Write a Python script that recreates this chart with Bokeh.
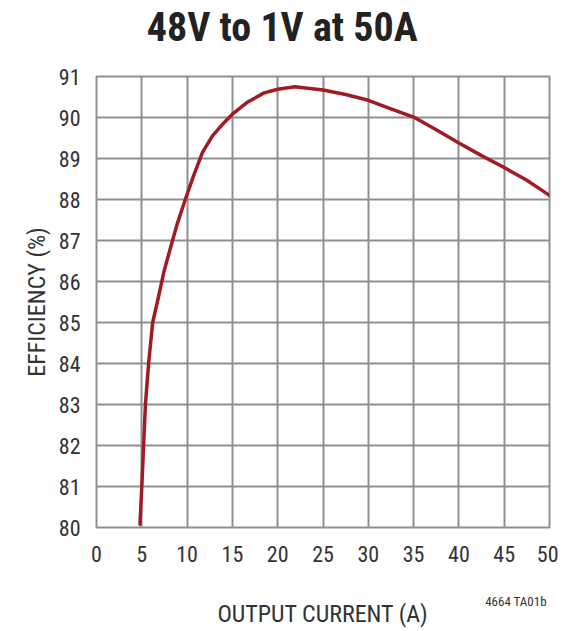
from bokeh.plotting import figure
from bokeh.models import Range1d, FixedTicker, LinearAxis, CustomJSTickFormatter
from bokeh.embed import file_html
from bokeh.resources import INLINE

# Data
current = [4.8, 5.0, 5.2, 5.4, 5.75, 6.2, 6.85, 7.4, 8.1, 8.9, 9.8, 10.7, 11.7, 12.8, 14.1, 15.0,
           16.7, 18.5, 20.0, 21.9, 25.0, 27.5, 30.0, 32.5, 35.0, 37.5, 40.0, 42.5, 45.0, 47.5, 50.0]
efficiency = [80.08, 81.0, 82.0, 83.0, 84.0, 85.0, 85.63, 86.2, 86.77, 87.4, 88.0, 88.57, 89.15, 89.55, 89.88, 90.08,
              90.38, 90.6, 90.69, 90.75, 90.67, 90.56, 90.42, 90.21, 90.01, 89.7, 89.38, 89.07, 88.78, 88.47, 88.1]
x_ticks = [0, 5, 10, 15, 20, 25, 30, 35, 40, 45, 50]
y_ticks = [80, 81, 82, 83, 84, 85, 86, 87, 88, 89, 90, 91]
title_text = "48V to 1V at 50A"
x_label = "OUTPUT CURRENT (A)"
y_label = "EFFICIENCY (%)"
note_text = "4664 TA01b"
title_at = [20.5]   # x (in axis units) where the title is centred
note_at = [46.3]    # x (in axis units) where the figure code is centred

FONT = "Roboto Condensed, DejaVu Sans Condensed, sans-serif"
GRID = "#8f8f8f"
TXT = "#333333"

p = figure(width=558, height=630, output_backend="svg", toolbar_location=None,
           x_range=Range1d(0, 50), y_range=Range1d(80, 91))
p.min_border_left = 96
p.min_border_right = 9
p.min_border_top = 75
p.min_border_bottom = 103
p.outline_line_color = GRID
p.outline_line_width = 2
p.background_fill_color = "white"
p.border_fill_color = "white"

p.xaxis.ticker = FixedTicker(ticks=x_ticks)
p.yaxis.ticker = FixedTicker(ticks=y_ticks)
p.xgrid.ticker = FixedTicker(ticks=x_ticks)
p.ygrid.ticker = FixedTicker(ticks=y_ticks)
for g in (p.xgrid, p.ygrid):
    g.grid_line_color = GRID
    g.grid_line_width = 2
    g.grid_line_alpha = 1.0

for ax in (p.xaxis, p.yaxis):
    ax.axis_line_color = None
    ax.major_tick_line_color = None
    ax.minor_tick_line_color = None
    ax.major_label_text_font = FONT
    ax.major_label_text_font_size = "22px"
    ax.major_label_text_color = TXT
    ax.axis_label_text_font = FONT
    ax.axis_label_text_font_size = "24px"
    ax.axis_label_text_font_style = "normal"
    ax.axis_label_text_color = TXT

p.yaxis.axis_label = y_label
p.xaxis.major_label_standoff = 12
p.yaxis.major_label_standoff = 10
p.yaxis.axis_label_standoff = 5

p.line(current, efficiency, line_color="#a01c24", line_width=3.5, line_join="round", line_cap="round")


def text_axis(text, at, size, style, standoff, color):
    # an axis with a single labelled position, used to place a text outside the frame
    return LinearAxis(ticker=FixedTicker(ticks=at),
                      formatter=CustomJSTickFormatter(args=dict(txt=text), code="return txt;"),
                      axis_line_color=None, major_tick_line_color=None, minor_tick_line_color=None,
                      major_label_standoff=standoff, major_label_text_font=FONT,
                      major_label_text_font_size=size, major_label_text_font_style=style,
                      major_label_text_color=color)


# chart title above the frame
p.add_layout(text_axis(title_text, title_at, "40px", "bold", 20, "#222222"), "above")

# figure code below the tick labels, with the x axis title under it
note_axis = text_axis(note_text, note_at, "13px", "normal", 23, TXT)
note_axis.axis_label = x_label
note_axis.axis_label_standoff = -12
note_axis.axis_label_text_font = FONT
note_axis.axis_label_text_font_size = "24px"
note_axis.axis_label_text_font_style = "normal"
note_axis.axis_label_text_color = TXT
p.add_layout(note_axis, "below")

open("out.html", "w").write(file_html(p, INLINE))
